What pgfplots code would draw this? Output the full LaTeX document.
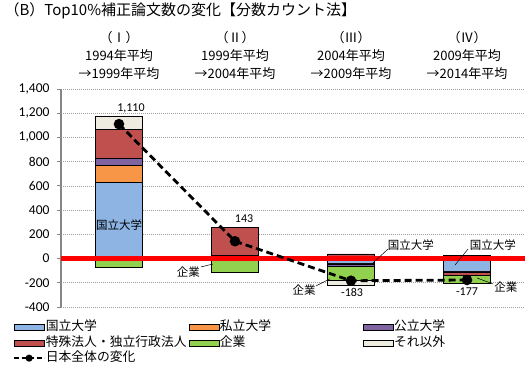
\documentclass[border=0pt]{standalone}
\usepackage{pgfplots}
\pgfplotsset{compat=1.18}
\usepackage{pgfplotstable}
\usepackage{fontspec}
\setmainfont{Carlito}
\newfontfamily\jp{Noto Sans CJK JP}

\definecolor{cKoku}{HTML}{8DB4E2}
\definecolor{cShi}{HTML}{F79646}
\definecolor{cKou}{HTML}{8064A2}
\definecolor{cToku}{HTML}{C0504D}
\definecolor{cKigyo}{HTML}{92D050}
\definecolor{cEtc}{HTML}{EEECE1}
\definecolor{axgray}{HTML}{868686}

% positive (P) and negative (N) parts of each series, stacked separately as in the original
\pgfplotstableread{
x kokuP shiP kouP tokuP kigyoP etcP kokuN shiN kouN tokuN kigyoN etcN
1 628 140 58 242 0 110 0 0 0 0 -68 0
2 15 10 5 225 0 0 0 0 0 0 -112 0
3 0 0 0 38 0 0 -38 -5 -20 0 -115 -43
4 0 0 0 0 0 25 -108 -2 -3 -25 -64 0
}\bardata
\pgfplotstableread{
x y
1 1110
2 143
3 -183
4 -177
}\totaldata

\pgfplotsset{
  base/.style={scale only axis, width=464pt, height=218pt,
    xmin=0.5, xmax=4.5, ymin=-400, ymax=1400,
    at={(61pt,58pt)}, anchor=south west,
    ybar stacked, reverse stacked plots=false, bar width=47pt, xtick=\empty},
  barsty/.style={fill=#1, draw=black, line width=0.5pt},
  boxlegend/.style={legend image code/.code={\draw[##1] (0pt,-3pt) rectangle (30pt,3pt);}},
  linelegend/.style={legend image code/.code={\draw[mark repeat=2,mark phase=2,##1, mark size=2.6pt, line width=1.8pt, dash pattern=on 5pt off 2.5pt] plot coordinates {(0pt,0pt) (15pt,0pt) (30pt,0pt)};}},
}

\begin{document}
\begin{tikzpicture}
\useasboundingbox (0pt,0pt) rectangle (526pt,365pt);

% negative parts + grid + y axis
\begin{axis}[base,
  axis x line=none, axis y line*=left,
  y axis line style={axgray, line width=1.8pt},
  ytick={-400,-200,...,1400},
  ymajorgrids, grid style={gray!75, line width=0.6pt, dash pattern=on 0.8pt off 1.2pt},
  major tick length=4pt, tick align=outside, tick style={axgray, line width=0.8pt},
  yticklabel style={font=\fontsize{13.5}{15}\selectfont, xshift=-4pt},
  /pgf/number format/.cd, 1000 sep={,}, assume math mode=true]
\addplot[barsty=cKoku, forget plot] table[x=x,y=kokuN]{\bardata};
\addplot[barsty=cShi, forget plot] table[x=x,y=shiN]{\bardata};
\addplot[barsty=cKou, forget plot] table[x=x,y=kouN]{\bardata};
\addplot[barsty=cToku, forget plot] table[x=x,y=tokuN]{\bardata};
\addplot[barsty=cKigyo, forget plot] table[x=x,y=kigyoN]{\bardata};
\addplot[barsty=cEtc, forget plot] table[x=x,y=etcN]{\bardata};
\end{axis}

% positive parts, zero line, total line, legend
\begin{axis}[base, axis lines=none, ticks=none,
  legend columns=3,
  legend style={draw=none, fill=none, inner sep=0pt,
    at={(axis description cs:-0.1034,-0.061)}, anchor=north west,
    font=\jp\fontsize{12.8}{14}\selectfont,
    nodes={inner sep=0.8pt, text height=9.5pt, text depth=3pt},
    row sep=1.2pt},
  legend cell align=left]
\addplot[barsty=cKoku, boxlegend] table[x=x,y=kokuP]{\bardata};
\addlegendentry{\makebox[142pt][l]{国立大学}}
\addplot[barsty=cShi, boxlegend] table[x=x,y=shiP]{\bardata};
\addlegendentry{\makebox[142pt][l]{私立大学}}
\addplot[barsty=cKou, boxlegend] table[x=x,y=kouP]{\bardata};
\addlegendentry{\makebox[142pt][l]{公立大学}}
\addplot[barsty=cToku, boxlegend] table[x=x,y=tokuP]{\bardata};
\addlegendentry{\makebox[142pt][l]{特殊法人・独立行政法人}}
\addplot[barsty=cKigyo, boxlegend] table[x=x,y=kigyoP]{\bardata};
\addlegendentry{\makebox[142pt][l]{企業}}
\addplot[barsty=cEtc, boxlegend] table[x=x,y=etcP]{\bardata};
\addlegendentry{\makebox[142pt][l]{それ以外}}
\addplot[sharp plot, stack plots=false, forget plot, red, line width=4.5pt] coordinates {(0.5,0) (4.5,0)};
\addplot[sharp plot, stack plots=false, black, line width=2.8pt, dash pattern=on 7pt off 4pt,
  mark=*, mark size=3.8pt, mark options={solid, fill=black}, linelegend]
  table[x=x,y=y]{\totaldata};
\addlegendentry{日本全体の変化}

% value labels
\node[font=\fontsize{12}{14}\selectfont] at (axis cs:1.103,1243) {1,110};
\node[font=\fontsize{12}{14}\selectfont] at (axis cs:2.078,327) {143};
\node[font=\fontsize{12}{14}\selectfont] at (axis cs:3.009,-276) {-183};
\node[font=\fontsize{12}{14}\selectfont] at (axis cs:4.0,-276) {-177};

% annotations
\node[font=\jp\fontsize{11.5}{13}\selectfont] at (axis cs:1,277) {国立大学};
\node[font=\jp\fontsize{11.5}{13}\selectfont] at (axis cs:1.599,-116) {企業};
\draw[black, line width=0.5pt] (axis cs:1.707,-69) -- (axis cs:1.81,-45);
\node[font=\jp\fontsize{11.5}{13}\selectfont] at (axis cs:2.595,-259) {企業};
\draw[black, line width=0.5pt] (axis cs:2.698,-226) -- (axis cs:2.819,-167);
\node[font=\jp\fontsize{11.5}{13}\selectfont] at (axis cs:3.517,112) {国立大学};
\draw[black, line width=0.5pt] (axis cs:3.319,79) -- (axis cs:3.19,-36);
\node[font=\jp\fontsize{11.5}{13}\selectfont] at (axis cs:4.224,112) {国立大学};
\draw[black, line width=0.5pt] (axis cs:4.009,79) -- (axis cs:3.897,-53);
\node[font=\jp\fontsize{11.5}{13}\selectfont] at (axis cs:4.336,-235) {企業};
\draw[black, line width=0.5pt] (axis cs:4.224,-210) -- (axis cs:4.086,-160);
\end{axis}

% title and period headings
\node[anchor=west, font=\jp\fontsize{15}{18}\selectfont] at (1pt,354pt) {（B）Top10\%補正論文数の変化【分数カウント法】};
\node[align=center, font=\jp\fontsize{13}{18}\selectfont] at (119pt,310pt) {（Ⅰ）\\1994年平均\\→1999年平均};
\node[align=center, font=\jp\fontsize{13}{18}\selectfont] at (235pt,310pt) {（Ⅱ）\\1999年平均\\→2004年平均};
\node[align=center, font=\jp\fontsize{13}{18}\selectfont] at (351pt,310pt) {（Ⅲ）\\2004年平均\\→2009年平均};
\node[align=center, font=\jp\fontsize{13}{18}\selectfont] at (467pt,310pt) {（Ⅳ）\\2009年平均\\→2014年平均};
\end{tikzpicture}
\end{document}
